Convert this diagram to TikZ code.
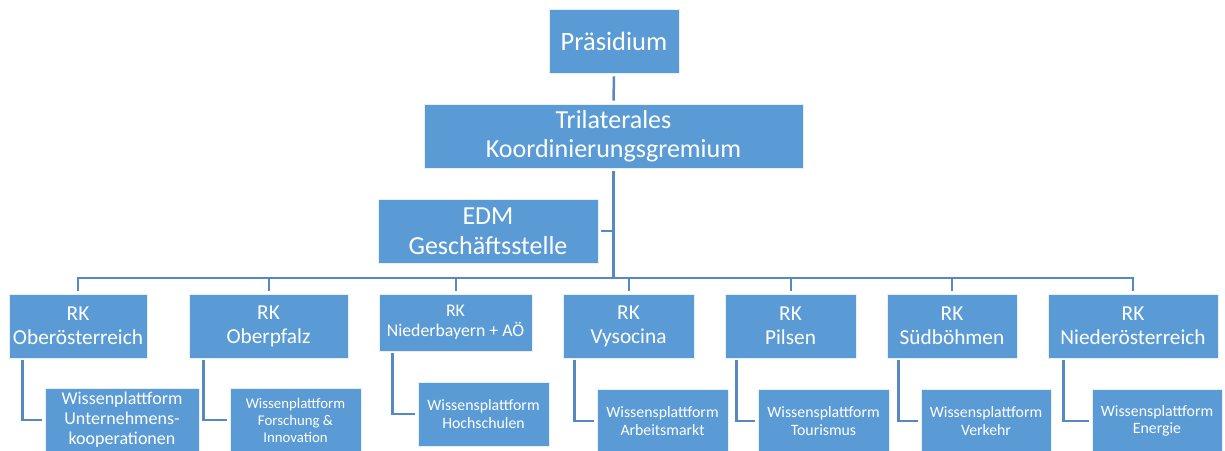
\documentclass[tikz,border=0pt]{standalone}
\usepackage{fontspec}
\setmainfont{Carlito}
\usetikzlibrary{calc}
\definecolor{boxblue}{HTML}{5B9BD5}
\definecolor{linkblue}{HTML}{5688C4}
\tikzset{
  orgbox/.style={rectangle, fill=boxblue, draw=white!85!boxblue, line width=0.8pt, text=white, align=center, inner sep=0pt},
  link/.style={draw=linkblue, line width=2.5pt},
  thinlink/.style={draw=linkblue, line width=2pt},
}
\begin{document}
\begin{tikzpicture}[x=1pt,y=-1pt]
\useasboundingbox (0,0) rectangle (1225,450);
% top
\node[orgbox, minimum width=130, minimum height=64, font=\fontsize{26.5}{30}\selectfont] (pr) at (614,41) {Präsidium};
\node[orgbox, minimum width=379, minimum height=64, font=\fontsize{26}{29}\selectfont] (tk) at (613.5,136) {Trilaterales\\Koordinierungsgremium};
\node[orgbox, minimum width=220, minimum height=64, font=\fontsize{26}{30}\selectfont] (edm) at (488,231) {EDM\\Geschäftsstelle};
% RK row
\node[orgbox, minimum width=138, minimum height=64, font=\fontsize{21.3}{24}\selectfont] (rk1) at (78,326) {RK\\Oberösterreich};
\node[orgbox, minimum width=159, minimum height=64, font=\fontsize{21.3}{24}\selectfont] (rk2) at (268.5,326) {RK\\Oberpfalz};
\node[orgbox, minimum width=153, minimum height=57, font=\fontsize{17.8}{20}\selectfont] (rk3) at (455.5,322.5) {RK\\Niederbayern + AÖ};
\node[orgbox, minimum width=131, minimum height=64, font=\fontsize{21.3}{24}\selectfont] (rk4) at (628.5,326) {RK\\Vysocina};
\node[orgbox, minimum width=131, minimum height=64, font=\fontsize{21.3}{24}\selectfont] (rk5) at (790.5,326) {RK\\Pilsen};
\node[orgbox, minimum width=130, minimum height=64, font=\fontsize{21.3}{24}\selectfont] (rk6) at (952,326) {RK\\Südböhmen};
\node[orgbox, minimum width=170, minimum height=64, font=\fontsize{21.3}{24}\selectfont] (rk7) at (1133,326) {RK\\Niederösterreich};
% platforms
\node[orgbox, minimum width=154, minimum height=64, font=\fontsize{18}{20}\selectfont] (w1) at (122,420) {Wissenplattform\\Unternehmens-\\kooperationen};
\node[orgbox, minimum width=131, minimum height=64, font=\fontsize{14.8}{17}\selectfont] (w2) at (295.5,420) {Wissenplattform\\Forschung \&\\Innovation};
\node[orgbox, minimum width=131, minimum height=64, font=\fontsize{15.8}{18}\selectfont] (w3) at (483.5,414) {Wissensplattform\\Hochschulen};
\node[orgbox, minimum width=131, minimum height=64, font=\fontsize{15.8}{17.5}\selectfont] (w4) at (662.5,421) {Wissensplattform\\Arbeitsmarkt};
\node[orgbox, minimum width=131, minimum height=64, font=\fontsize{15.8}{17.5}\selectfont] (w5) at (823.5,421) {Wissensplattform\\Tourismus};
\node[orgbox, minimum width=130, minimum height=64, font=\fontsize{15.8}{17.5}\selectfont] (w6) at (986,421) {Wissensplattform\\Verkehr};
\node[orgbox, minimum width=130, minimum height=64, font=\fontsize{15.8}{17.5}\selectfont] (w7) at (1157,421) {Wissensplattform\\Energie};
% connectors
\coordinate (bus) at (614,278);
\draw[link] ($(pr.south)+(0,3)$) -- ($(tk.north)+(0,-3)$);
\draw[line width=3pt, draw=linkblue] ($(tk.south)+(0,3)$) -- (tk.south |- bus);
\draw[thinlink] ($(edm.east)+(3,0)$) -- (edm.east -| tk.south);
\draw[link] ([xshift=-1.25pt]rk1.north |- bus) -- ([xshift=1.25pt]rk7.north |- bus);
\foreach \n in {rk1,rk2,rk3,rk4,rk5,rk6,rk7}{
  \draw[thinlink] (\n.north |- bus) -- ($(\n.north)+(0,-3)$);
}
\draw[link] ($(rk1.south west)+(14,2)$) |- ($(w1.west)+(-3,0)$);
\draw[link] ($(rk2.south west)+(15,2)$) |- ($(w2.west)+(-3,0)$);
\draw[link] ($(rk3.south west)+(14,2)$) |- ($(w3.west)+(-3,0)$);
\draw[link] ($(rk4.south west)+(12,2)$) |- ($(w4.west)+(-3,0)$);
\draw[link] ($(rk5.south west)+(12,2)$) |- ($(w5.west)+(-3,0)$);
\draw[link] ($(rk6.south west)+(12,2)$) |- ($(w6.west)+(-3,0)$);
\draw[link] ($(rk7.south west)+(16,2)$) |- ($(w7.west)+(-3,0)$);
\end{tikzpicture}
\end{document}
